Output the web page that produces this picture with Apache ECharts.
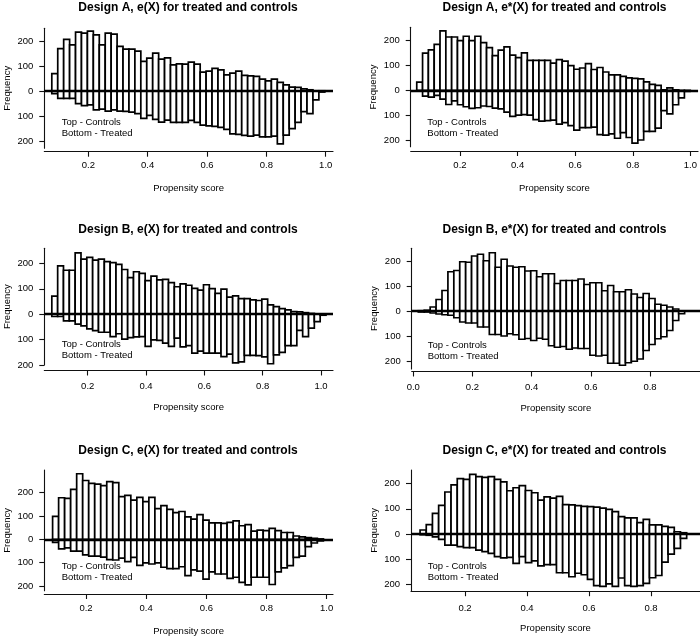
<!DOCTYPE html>
<html><head><meta charset="utf-8">
<script src="https://cdn.jsdelivr.net/npm/echarts@6/dist/echarts.min.js"></script>
<style>html,body{margin:0;padding:0;background:#fff}#c{width:700px;height:637px}</style>
</head><body><div id="c"></div>
<script>
// ---------- data ----------
const panelTitles = [
  'Design A, e(X) for treated and controls',
  'Design A, e*(X) for treated and controls',
  'Design B, e(X) for treated and controls',
  'Design B, e*(X) for treated and controls',
  'Design C, e(X) for treated and controls',
  'Design C, e*(X) for treated and controls'
];
// left edge of first bin (propensity score units) and bin width
const binStart = [0.077, 0.05, 0.077, 0.017, 0.089, 0.055];
const binWidth = [0.02, 0.0202, 0.02, 0.02, 0.02, 0.02];

const controlsAe  = [70,170,207,185,236,232,240,225,185,232,228,179,168,168,160,119,132,152,128,133,105,109,108,116,108,76,80,91,85,65,72,80,63,61,59,48,41,48,35,25,16,15,9,5,1,1];
const treatedAe   = [10,29,29,29,50,58,55,75,72,80,75,80,81,84,90,109,97,113,124,116,125,125,125,117,125,136,139,141,145,153,171,173,177,180,176,183,183,180,211,176,150,125,82,90,35,4];

const controlsAes = [33,150,163,185,240,215,215,200,218,200,218,192,172,140,162,175,142,132,151,121,121,121,121,110,124,118,100,85,90,108,84,92,74,62,62,56,50,48,46,34,24,20,2,10,2,0,0];
const treatedAes  = [2,23,27,20,35,57,42,58,66,73,70,63,65,72,75,88,105,100,98,100,118,124,122,120,136,130,142,160,150,150,148,178,180,175,193,170,190,213,200,165,165,152,82,95,58,30,4];

const controlsBe  = [71,190,173,173,241,217,224,213,217,207,203,196,176,144,167,161,132,150,135,137,124,108,119,114,102,95,116,101,82,99,67,72,61,61,56,54,59,37,30,22,17,10,9,6,3,0,0];
const treatedBe   = [9,9,26,26,39,46,58,65,71,71,88,77,98,92,89,88,127,101,103,114,127,94,129,124,153,145,153,153,153,167,157,192,188,162,162,163,168,195,160,150,124,124,64,88,55,29,4];

const controlsBes = [1,3,16,46,82,157,162,197,195,220,227,201,233,175,207,180,175,177,160,161,137,149,149,110,122,122,122,128,106,113,113,81,102,77,77,85,68,54,70,50,27,23,16,8,0,0];
const treatedBes  = [4,4,8,12,15,17,27,44,48,48,64,64,94,94,100,91,95,113,110,118,109,113,139,145,142,153,148,150,150,177,180,177,209,209,217,207,201,192,158,134,111,103,78,38,11,0];

const controlsCe  = [98,178,175,214,281,252,240,236,230,247,243,183,188,168,180,161,180,131,144,128,114,119,96,86,106,82,70,70,68,72,79,58,63,35,39,37,47,37,29,29,14,10,7,4,1];
const treatedCe   = [13,41,37,51,51,67,72,72,77,87,89,81,96,78,112,101,106,101,120,126,126,118,156,131,137,171,140,149,149,168,163,185,196,163,163,163,194,140,123,113,78,72,32,16,7];

const controlsCes = [16,37,82,114,167,195,220,217,237,228,225,228,217,207,172,184,192,173,164,135,148,143,150,117,116,113,110,109,107,103,98,89,69,64,64,45,58,36,36,30,26,9,5];
const treatedCes  = [3,5,11,21,44,44,50,54,54,64,70,77,90,95,93,117,90,114,107,127,122,122,154,154,170,156,162,180,205,208,198,208,175,205,208,205,196,174,165,112,80,57,17];

const yTickValues = [-200, -100, 0, 100, 200];
const xTickValues = [
  [0.2, 0.4, 0.6, 0.8, 1.0],
  [0.2, 0.4, 0.6, 0.8, 1.0],
  [0.2, 0.4, 0.6, 0.8, 1.0],
  [0.0, 0.2, 0.4, 0.6, 0.8],
  [0.2, 0.4, 0.6, 0.8, 1.0],
  [0.2, 0.4, 0.6, 0.8]
];
const xAxisTitle = 'Propensity score';
const yAxisTitle = 'Frequency';
const legendText = ['Top - Controls', 'Bottom - Treated'];

const controlsAll = [controlsAe, controlsAes, controlsBe, controlsBes, controlsCe, controlsCes];
const treatedAll  = [treatedAe, treatedAes, treatedBe, treatedBes, treatedCe, treatedCes];

// ---------- layout (pixels) ----------
const layout = [
  {left:44.3, top:28.3, width:288.7, height:120, xmin:0.0517, xmax:1.0246, ymin:-229, ymax:251, xoff:3.4, lm:9, tx:188, ty:1.5, lx:61.7, ly:123.3},
  {left:410.7, top:27.3, width:289.3, height:119.4, xmin:0.029, xmax:1.0266, ymin:-227, ymax:254, xoff:4.3, lm:9.5, tx:554.5, ty:1.5, lx:427.3, ly:123.3},
  {left:44.3, top:248.3, width:288.7, height:116.7, xmin:0.0512, xmax:1.041, ymin:-200, ymax:259.4, xoff:5.5, lm:11, tx:188, ty:223.5, lx:61.7, ly:345},
  {left:411.7, top:248.3, width:288.3, height:120.7, xmin:-0.0054, xmax:0.969, ymin:-232, ymax:250.8, xoff:2.5, lm:10.5, tx:554.5, ty:223.5, lx:427.7, ly:345.7},
  {left:44.3, top:470, width:288.7, height:120.7, xmin:0.0614, xmax:1.021, ymin:-220.6, ymax:297, xoff:3.3, lm:9.5, tx:188, ty:444.5, lx:61.7, ly:566.7},
  {left:411, top:470, width:289, height:120.7, xmin:0.0258, xmax:0.958, ymin:-225.4, ymax:254.5, xoff:0.5, lm:12.5, tx:554.5, ty:444.5, lx:427.7, ly:566.7}
];

const FONT = "'Liberation Sans', Arial, Helvetica, sans-serif";
const INK = '#000';
const grids = [], xAxes = [], yAxes = [], series = [], titles = [], graphics = [];

function renderBar(sign) {
  return function (params, api) {
    const x0 = api.value(0), x1 = api.value(1), v = api.value(2);
    if (!v) return null;
    const p0 = api.coord([x0, 0]);
    const p1 = api.coord([x1, sign * v]);
    return {
      type: 'rect',
      shape: {x: p0[0], y: Math.min(p0[1], p1[1]), width: p1[0] - p0[0], height: Math.abs(p1[1] - p0[1])},
      style: {fill: '#ffffff', stroke: '#000000', lineWidth: 1.7}
    };
  };
}

layout.forEach((L, i) => {
  grids.push({left: L.left, top: L.top, width: L.width, height: L.height, containLabel: false});
  xAxes.push({
    type: 'value', gridIndex: i, min: L.xmin, max: L.xmax, position: 'bottom', offset: L.xoff,
    axisLine: {show: true, onZero: false, lineStyle: {color: '#111', width: 1.1}},
    axisTick: {show: true, length: 5, customValues: xTickValues[i], lineStyle: {color: '#111', width: 1.1}},
    axisLabel: {customValues: xTickValues[i], formatter: v => v.toFixed(1), fontSize: 9.5, color: INK, fontFamily: FONT, margin: L.lm},
    splitLine: {show: false},
    name: xAxisTitle, nameLocation: 'middle', nameGap: 32,
    nameTextStyle: {fontSize: 9.5, color: INK, fontFamily: FONT}
  });
  yAxes.push({
    type: 'value', gridIndex: i, min: L.ymin, max: L.ymax,
    axisLine: {show: true, onZero: false, lineStyle: {color: '#111', width: 1.1}},
    axisTick: {show: true, length: 5, customValues: yTickValues, lineStyle: {color: '#111', width: 1.1}},
    axisLabel: {customValues: yTickValues, formatter: v => String(Math.abs(v)), fontSize: 9.5, color: INK, fontFamily: FONT, margin: 11},
    splitLine: {show: false},
    name: yAxisTitle, nameLocation: 'middle', nameGap: 32, nameRotate: 90,
    nameTextStyle: {fontSize: 9.5, color: INK, fontFamily: FONT}
  });
  const c = controlsAll[i], t = treatedAll[i];
  const s = binStart[i], w = binWidth[i];
  const cData = c.map((v, k) => [s + k * w, s + (k + 1) * w, v]);
  const tData = t.map((v, k) => [s + k * w, s + (k + 1) * w, v]);
  series.push({
    type: 'custom', name: 'Treated', xAxisIndex: i, yAxisIndex: i, data: tData,
    encode: {x: [0, 1], y: 2}, renderItem: renderBar(-1), silent: true, clip: false
  });
  series.push({
    type: 'custom', name: 'Controls', xAxisIndex: i, yAxisIndex: i, data: cData,
    encode: {x: [0, 1], y: 2}, renderItem: renderBar(1), silent: true, clip: false,
    markLine: {silent: true, symbol: ['none', 'none'], label: {show: false},
      lineStyle: {color: '#000', width: 2.4, type: 'solid'}, data: [{yAxis: 0}], animation: false}
  });
  titles.push({
    text: panelTitles[i], left: L.tx, top: L.ty, textAlign: 'center', padding: 0,
    textStyle: {fontSize: 12, fontWeight: 'bold', color: INK, fontFamily: FONT}
  });
  graphics.push({
    type: 'text', left: L.lx, top: L.ly - 6,
    style: {text: legendText.join('\n'), font: '9.5px ' + FONT, fill: INK, lineHeight: 11}
  });
});

const chart = echarts.init(document.getElementById('c'), null, {renderer: 'canvas'});
chart.setOption({
  animation: false,
  backgroundColor: '#ffffff',
  title: titles, grid: grids, xAxis: xAxes, yAxis: yAxes, series: series, graphic: graphics
});
</script></body></html>
